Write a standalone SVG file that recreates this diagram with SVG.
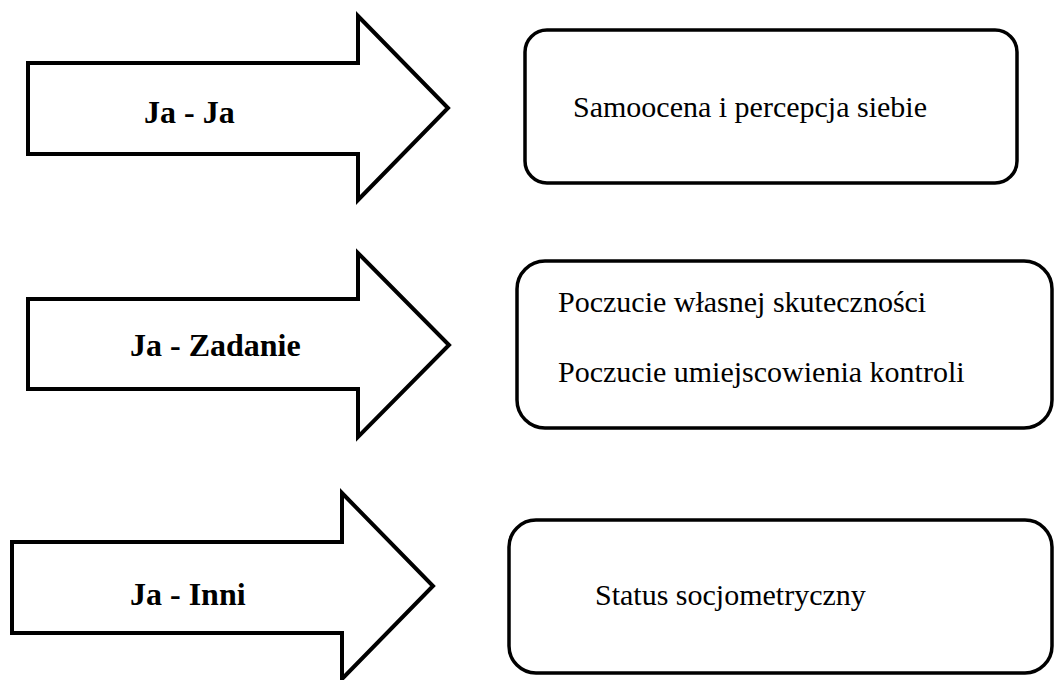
<svg xmlns="http://www.w3.org/2000/svg" width="1055" height="680" viewBox="0 0 1055 680">
<style>
.arrow{fill:#fff;stroke:#000;stroke-width:4;stroke-linejoin:miter}
.box{fill:#fff;stroke:#000;stroke-width:3.5}
.lbl{font-family:"Liberation Serif","Times New Roman",serif;font-weight:bold;font-size:32px;fill:#000}
.txt{font-family:"Liberation Serif","Times New Roman",serif;font-size:30px;fill:#000}
</style>
<rect width="1055" height="680" fill="#fff"/>
<g id="arrow-ja-ja">
<polygon class="arrow" points="28,63 358,63 358,16 448,108 358,200 358,154 28,154"/>
<text class="lbl" x="144" y="123">Ja - Ja</text>
</g>
<g id="box-samoocena">
<rect class="box" x="525" y="30" width="492" height="153" rx="22" ry="22"/>
<text class="txt" x="573" y="117">Samoocena i percepcja siebie</text>
</g>
<g id="arrow-ja-zadanie">
<polygon class="arrow" points="28,299 358,299 358,253 449,345 358,437 358,389 28,389"/>
<text class="lbl" x="130" y="356">Ja - Zadanie</text>
</g>
<g id="box-poczucie">
<rect class="box" x="517" y="261" width="535" height="167" rx="28" ry="28"/>
<text class="txt" x="558" y="312">Poczucie własnej skuteczności</text>
<text class="txt" x="558" y="382">Poczucie umiejscowienia kontroli</text>
</g>
<g id="arrow-ja-inni">
<polygon class="arrow" points="12,542 342,542 342,493 433,586 342,679 342,633 12,633"/>
<text class="lbl" x="130" y="605">Ja - Inni</text>
</g>
<g id="box-status">
<rect class="box" x="509" y="520" width="543" height="153" rx="27" ry="27"/>
<text class="txt" x="595" y="605">Status socjometryczny</text>
</g>
<g id="connectors"></g>
</svg>
